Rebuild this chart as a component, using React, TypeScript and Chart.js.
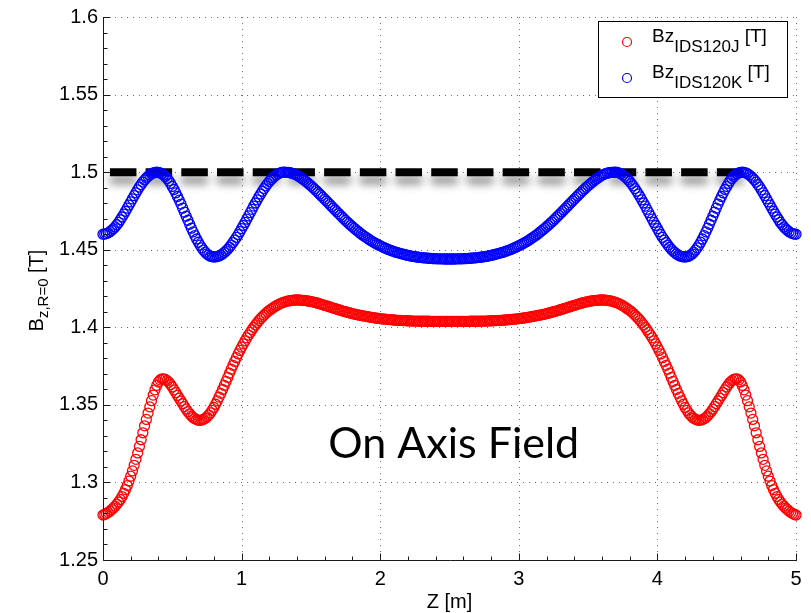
import { useEffect, useRef } from 'react';
import { Chart, registerables } from 'chart.js';

Chart.register(...registerables);

// Sample positions along the magnet axis [m]
const Z_START = 0;
const Z_STEP = 0.0125;

// On-axis field, IDS120J coil layout [T]
const bzIDS120J = [
  1.2790, 1.2794, 1.2800, 1.2807, 1.2815, 1.2825, 1.2835, 1.2847, 1.2860, 1.2874,
  1.2890, 1.2909, 1.2930, 1.2954, 1.2980, 1.3009, 1.3040, 1.3074, 1.3110, 1.3149,
  1.3190, 1.3232, 1.3275, 1.3320, 1.3365, 1.3406, 1.3447, 1.3487, 1.3527, 1.3563,
  1.3597, 1.3625, 1.3648, 1.3661, 1.3668, 1.3668, 1.3664, 1.3656, 1.3645, 1.3631,
  1.3615, 1.3597, 1.3579, 1.3561, 1.3543, 1.3525, 1.3507, 1.3489, 1.3472, 1.3456,
  1.3442, 1.3429, 1.3419, 1.3411, 1.3405, 1.3401, 1.3400, 1.3402, 1.3407, 1.3413,
  1.3422, 1.3434, 1.3448, 1.3465, 1.3483, 1.3504, 1.3526, 1.3550, 1.3574, 1.3599,
  1.3625, 1.3651, 1.3677, 1.3704, 1.3730, 1.3755, 1.3780, 1.3804, 1.3828, 1.3851,
  1.3872, 1.3893, 1.3913, 1.3932, 1.3950, 1.3967, 1.3984, 1.4000, 1.4015, 1.4029,
  1.4043, 1.4056, 1.4068, 1.4079, 1.4090, 1.4100, 1.4109, 1.4117, 1.4125, 1.4132,
  1.4139, 1.4145, 1.4151, 1.4156, 1.4160, 1.4164, 1.4167, 1.4170, 1.4172, 1.4174,
  1.4175, 1.4176, 1.4176, 1.4176, 1.4175, 1.4174, 1.4173, 1.4172, 1.4170, 1.4168,
  1.4166, 1.4164, 1.4161, 1.4158, 1.4155, 1.4152, 1.4148, 1.4145, 1.4141, 1.4138,
  1.4134, 1.4131, 1.4127, 1.4124, 1.4120, 1.4117, 1.4113, 1.4110, 1.4106, 1.4103,
  1.4100, 1.4097, 1.4094, 1.4091, 1.4088, 1.4085, 1.4083, 1.4080, 1.4078, 1.4076,
  1.4074, 1.4072, 1.4070, 1.4068, 1.4066, 1.4064, 1.4062, 1.4060, 1.4059, 1.4057,
  1.4056, 1.4054, 1.4053, 1.4052, 1.4051, 1.4050, 1.4049, 1.4048, 1.4047, 1.4046,
  1.4045, 1.4044, 1.4044, 1.4043, 1.4043, 1.4042, 1.4042, 1.4041, 1.4041, 1.4040,
  1.4040, 1.4040, 1.4040, 1.4039, 1.4039, 1.4039, 1.4039, 1.4039, 1.4039, 1.4038,
  1.4038, 1.4038, 1.4038, 1.4038, 1.4038, 1.4038, 1.4038, 1.4038, 1.4038, 1.4038,
  1.4038,
  1.4038, 1.4038, 1.4038, 1.4038, 1.4038, 1.4038, 1.4038, 1.4038, 1.4038, 1.4038,
  1.4038, 1.4039, 1.4039, 1.4039, 1.4039, 1.4039, 1.4039, 1.4040, 1.4040, 1.4040,
  1.4040, 1.4041, 1.4041, 1.4042, 1.4042, 1.4043, 1.4043, 1.4044, 1.4044, 1.4045,
  1.4046, 1.4047, 1.4048, 1.4049, 1.4050, 1.4051, 1.4052, 1.4053, 1.4054, 1.4056,
  1.4057, 1.4059, 1.4060, 1.4062, 1.4064, 1.4066, 1.4068, 1.4070, 1.4072, 1.4074,
  1.4076, 1.4078, 1.4080, 1.4083, 1.4085, 1.4088, 1.4091, 1.4094, 1.4097, 1.4100,
  1.4103, 1.4106, 1.4110, 1.4113, 1.4117, 1.4120, 1.4124, 1.4127, 1.4131, 1.4134,
  1.4138, 1.4141, 1.4145, 1.4148, 1.4152, 1.4155, 1.4158, 1.4161, 1.4164, 1.4166,
  1.4168, 1.4170, 1.4172, 1.4173, 1.4174, 1.4175, 1.4176, 1.4176, 1.4176, 1.4175,
  1.4174, 1.4172, 1.4170, 1.4167, 1.4164, 1.4160, 1.4156, 1.4151, 1.4145, 1.4139,
  1.4132, 1.4125, 1.4117, 1.4109, 1.4100, 1.4090, 1.4079, 1.4068, 1.4056, 1.4043,
  1.4029, 1.4015, 1.4000, 1.3984, 1.3967, 1.3950, 1.3932, 1.3913, 1.3893, 1.3872,
  1.3851, 1.3828, 1.3804, 1.3780, 1.3755, 1.3730, 1.3704, 1.3677, 1.3651, 1.3625,
  1.3599, 1.3574, 1.3550, 1.3526, 1.3504, 1.3483, 1.3465, 1.3448, 1.3434, 1.3422,
  1.3413, 1.3407, 1.3402, 1.3400, 1.3401, 1.3405, 1.3411, 1.3419, 1.3429, 1.3442,
  1.3456, 1.3472, 1.3489, 1.3507, 1.3525, 1.3543, 1.3561, 1.3579, 1.3597, 1.3615,
  1.3631, 1.3645, 1.3656, 1.3664, 1.3668, 1.3668, 1.3661, 1.3648, 1.3625, 1.3597,
  1.3563, 1.3527, 1.3487, 1.3447, 1.3406, 1.3365, 1.3320, 1.3275, 1.3232, 1.3190,
  1.3149, 1.3110, 1.3074, 1.3040, 1.3009, 1.2980, 1.2954, 1.2930, 1.2909, 1.2890,
  1.2874, 1.2860, 1.2847, 1.2835, 1.2825, 1.2815, 1.2807, 1.2800, 1.2794, 1.2790,
];

// On-axis field, IDS120K coil layout [T]
const bzIDS120K = [
  1.4600, 1.4601, 1.4604, 1.4609, 1.4616, 1.4625, 1.4635, 1.4647, 1.4661, 1.4676,
  1.4693, 1.4711, 1.4729, 1.4748, 1.4768, 1.4788, 1.4808, 1.4828, 1.4848, 1.4867,
  1.4886, 1.4904, 1.4920, 1.4936, 1.4950, 1.4962, 1.4973, 1.4982, 1.4990, 1.4995,
  1.4999, 1.5000, 1.4999, 1.4995, 1.4990, 1.4982, 1.4972, 1.4959, 1.4944, 1.4927,
  1.4908, 1.4888, 1.4866, 1.4843, 1.4819, 1.4794, 1.4768, 1.4742, 1.4716, 1.4690,
  1.4664, 1.4639, 1.4615, 1.4591, 1.4569, 1.4548, 1.4529, 1.4512, 1.4497, 1.4484,
  1.4473, 1.4465, 1.4458, 1.4455, 1.4453, 1.4454, 1.4456, 1.4460, 1.4466, 1.4473,
  1.4482, 1.4492, 1.4503, 1.4516, 1.4530, 1.4546, 1.4562, 1.4579, 1.4597, 1.4616,
  1.4636, 1.4656, 1.4676, 1.4697, 1.4718, 1.4739, 1.4760, 1.4781, 1.4801, 1.4821,
  1.4841, 1.4859, 1.4877, 1.4894, 1.4911, 1.4926, 1.4940, 1.4952, 1.4963, 1.4973,
  1.4982, 1.4989, 1.4994, 1.4998, 1.5000, 1.5000, 1.4999, 1.4998, 1.4996, 1.4993,
  1.4990, 1.4985, 1.4980, 1.4973, 1.4966, 1.4958, 1.4950, 1.4941, 1.4932, 1.4922,
  1.4912, 1.4902, 1.4892, 1.4881, 1.4870, 1.4859, 1.4848, 1.4837, 1.4825, 1.4814,
  1.4802, 1.4791, 1.4779, 1.4768, 1.4756, 1.4745, 1.4733, 1.4722, 1.4711, 1.4700,
  1.4689, 1.4678, 1.4668, 1.4658, 1.4648, 1.4638, 1.4629, 1.4620, 1.4611, 1.4602,
  1.4594, 1.4586, 1.4578, 1.4570, 1.4563, 1.4556, 1.4549, 1.4543, 1.4537, 1.4531,
  1.4526, 1.4520, 1.4515, 1.4510, 1.4505, 1.4500, 1.4496, 1.4492, 1.4488, 1.4484,
  1.4481, 1.4478, 1.4475, 1.4472, 1.4469, 1.4466, 1.4464, 1.4461, 1.4459, 1.4457,
  1.4455, 1.4453, 1.4452, 1.4450, 1.4449, 1.4448, 1.4447, 1.4446, 1.4445, 1.4444,
  1.4443, 1.4442, 1.4442, 1.4441, 1.4441, 1.4441, 1.4441, 1.4440, 1.4440, 1.4440,
  1.4440,
  1.4440, 1.4440, 1.4440, 1.4441, 1.4441, 1.4441, 1.4441, 1.4442, 1.4442, 1.4443,
  1.4444, 1.4445, 1.4446, 1.4447, 1.4448, 1.4449, 1.4450, 1.4452, 1.4453, 1.4455,
  1.4457, 1.4459, 1.4461, 1.4464, 1.4466, 1.4469, 1.4472, 1.4475, 1.4478, 1.4481,
  1.4484, 1.4488, 1.4492, 1.4496, 1.4500, 1.4505, 1.4510, 1.4515, 1.4520, 1.4526,
  1.4531, 1.4537, 1.4543, 1.4549, 1.4556, 1.4563, 1.4570, 1.4578, 1.4586, 1.4594,
  1.4602, 1.4611, 1.4620, 1.4629, 1.4638, 1.4648, 1.4658, 1.4668, 1.4678, 1.4689,
  1.4700, 1.4711, 1.4722, 1.4733, 1.4745, 1.4756, 1.4768, 1.4779, 1.4791, 1.4802,
  1.4814, 1.4825, 1.4837, 1.4848, 1.4859, 1.4870, 1.4881, 1.4892, 1.4902, 1.4912,
  1.4922, 1.4932, 1.4941, 1.4950, 1.4958, 1.4966, 1.4973, 1.4980, 1.4985, 1.4990,
  1.4993, 1.4996, 1.4998, 1.4999, 1.5000, 1.5000, 1.4998, 1.4994, 1.4989, 1.4982,
  1.4973, 1.4963, 1.4952, 1.4940, 1.4926, 1.4911, 1.4894, 1.4877, 1.4859, 1.4841,
  1.4821, 1.4801, 1.4781, 1.4760, 1.4739, 1.4718, 1.4697, 1.4676, 1.4656, 1.4636,
  1.4616, 1.4597, 1.4579, 1.4562, 1.4546, 1.4530, 1.4516, 1.4503, 1.4492, 1.4482,
  1.4473, 1.4466, 1.4460, 1.4456, 1.4454, 1.4453, 1.4455, 1.4458, 1.4465, 1.4473,
  1.4484, 1.4497, 1.4512, 1.4529, 1.4548, 1.4569, 1.4591, 1.4615, 1.4639, 1.4664,
  1.4690, 1.4716, 1.4742, 1.4768, 1.4794, 1.4819, 1.4843, 1.4866, 1.4888, 1.4908,
  1.4927, 1.4944, 1.4959, 1.4972, 1.4982, 1.4990, 1.4995, 1.4999, 1.5000, 1.4999,
  1.4995, 1.4990, 1.4982, 1.4973, 1.4962, 1.4950, 1.4936, 1.4920, 1.4904, 1.4886,
  1.4867, 1.4848, 1.4828, 1.4808, 1.4788, 1.4768, 1.4748, 1.4729, 1.4711, 1.4693,
  1.4676, 1.4661, 1.4647, 1.4635, 1.4625, 1.4616, 1.4609, 1.4604, 1.4601, 1.4600,
];

const seriesNames = ['IDS120J', 'IDS120K'];
const seriesColors = ['#ff0000', '#0000ff'];

// Target field level, shown as a dashed line
const targetField = 1.5;
const targetSpanZ = [0.05, 4.62];

const zTicks = [0, 1, 2, 3, 4, 5];
const bTicks = [1.25, 1.3, 1.35, 1.4, 1.45, 1.5, 1.55, 1.6];

const captionText = 'On Axis Field';
const captionAt = { z: 2.53, b: 1.3155 };

const SANS = '"Liberation Sans", Arial, Helvetica, sans-serif';

const zValues = bzIDS120J.map((_, i) => +(Z_START + i * Z_STEP).toFixed(4));

const toPoints = (vals: number[]) => vals.map((b, i) => ({ x: zValues[i], y: b }));

// Draws a text run made of a main part, a subscript and a trailing part,
// starting at (x, 0) in the current transform.
function drawSubscripted(
  ctx: CanvasRenderingContext2D,
  x: number,
  main: string,
  sub: string,
  tail: string,
  mainSize: number,
  subSize: number,
  subDrop: number,
  measureOnly = false,
) {
  ctx.font = `${mainSize}px ${SANS}`;
  const w1 = ctx.measureText(main).width;
  ctx.font = `${subSize}px ${SANS}`;
  const w2 = ctx.measureText(sub).width;
  ctx.font = `${mainSize}px ${SANS}`;
  const w3 = ctx.measureText(tail).width;
  if (!measureOnly) {
    ctx.font = `${mainSize}px ${SANS}`;
    ctx.fillText(main, x, 0);
    ctx.font = `${subSize}px ${SANS}`;
    ctx.fillText(sub, x + w1, subDrop);
    ctx.font = `${mainSize}px ${SANS}`;
    ctx.fillText(tail, x + w1 + w2, 0);
  }
  return w1 + w2 + w3;
}

// Dotted grid underneath the data, solid axes with inward ticks above it,
// then the legend, axis titles and caption.
const framePlugin = {
  id: 'frame',
  beforeDatasetsDraw(chart: any) {
    const { ctx, chartArea: a, scales } = chart;
    const x = scales.x;
    const y = scales.y;
    ctx.save();
    ctx.strokeStyle = 'rgba(0,0,0,0.55)';
    ctx.lineWidth = 1;
    ctx.setLineDash([1, 5]);
    for (const v of bTicks.slice(1)) {
      const py = Math.round(y.getPixelForValue(v)) + 0.5;
      ctx.beginPath();
      ctx.moveTo(a.left, py);
      ctx.lineTo(a.right, py);
      ctx.stroke();
    }
    for (const v of zTicks.slice(1)) {
      const px = Math.round(x.getPixelForValue(v)) + 0.5;
      ctx.beginPath();
      ctx.moveTo(px, a.top);
      ctx.lineTo(px, a.bottom);
      ctx.stroke();
    }
    ctx.restore();
  },
  afterDatasetsDraw(chart: any) {
    const { ctx, chartArea: a, scales } = chart;
    const x = scales.x;
    const y = scales.y;
    const left = Math.round(a.left) + 0.5;
    const bottom = Math.round(a.bottom) + 0.5;
    ctx.save();
    ctx.strokeStyle = '#1a1a1a';
    ctx.lineWidth = 1;
    ctx.beginPath();
    ctx.moveTo(left, Math.round(a.top));
    ctx.lineTo(left, bottom);
    ctx.lineTo(Math.round(a.right) + 1, bottom);
    ctx.stroke();

    // y ticks: 4 minor steps between labelled values
    const bMin = bTicks[0];
    const bStep = (bTicks[1] - bTicks[0]) / 5;
    const nb = Math.round((bTicks[bTicks.length - 1] - bMin) / bStep);
    ctx.beginPath();
    for (let i = 0; i <= nb; i++) {
      const py = Math.round(y.getPixelForValue(bMin + i * bStep)) + 0.5;
      const len = i % 5 === 0 ? 7 : 4;
      ctx.moveTo(left, py);
      ctx.lineTo(left + len, py);
    }
    // x ticks: 4 minor steps between labelled values
    const zStep = (zTicks[1] - zTicks[0]) / 5;
    const nz = Math.round((zTicks[zTicks.length - 1] - zTicks[0]) / zStep);
    for (let i = 0; i <= nz; i++) {
      const px = Math.round(x.getPixelForValue(zTicks[0] + i * zStep)) + 0.5;
      const len = i % 5 === 0 ? 7 : 4;
      ctx.moveTo(px, bottom);
      ctx.lineTo(px, bottom - len);
    }
    ctx.stroke();
    ctx.restore();
  },
  afterDraw(chart: any) {
    const { ctx, chartArea: a, scales } = chart;
    const x = scales.x;
    const y = scales.y;
    ctx.save();
    ctx.fillStyle = '#000';
    ctx.textBaseline = 'alphabetic';
    ctx.textAlign = 'left';

    // caption inside the plot
    ctx.font = `43px Lato, "Open Sans", sans-serif`;
    ctx.textAlign = 'center';
    ctx.fillText(captionText, x.getPixelForValue(captionAt.z), y.getPixelForValue(captionAt.b));
    ctx.textAlign = 'left';

    // x axis title
    ctx.font = `20px ${SANS}`;
    ctx.textAlign = 'center';
    ctx.fillText('Z [m]', (a.left + a.right) / 2, 608);
    ctx.textAlign = 'left';

    // y axis title, rotated
    ctx.save();
    ctx.translate(43, (a.top + a.bottom) / 2 + 2);
    ctx.rotate(-Math.PI / 2);
    const tw = drawSubscripted(ctx, 0, 'B', 'z,R=0', ' [T]', 20, 15, 5, true);
    drawSubscripted(ctx, -tw / 2, 'B', 'z,R=0', ' [T]', 20, 15, 5);
    ctx.restore();

    // legend
    const box = { x: 598.5, y: 21.5, w: 189, h: 76 };
    ctx.fillStyle = '#fff';
    ctx.fillRect(box.x, box.y, box.w, box.h);
    ctx.strokeStyle = '#000';
    ctx.lineWidth = 1;
    ctx.strokeRect(box.x, box.y, box.w, box.h);
    const rows = [42, 78];
    seriesNames.forEach((name, i) => {
      const cy = rows[i];
      ctx.beginPath();
      ctx.strokeStyle = seriesColors[i];
      ctx.lineWidth = 1.2;
      ctx.arc(627, cy, 4.5, 0, Math.PI * 2);
      ctx.stroke();
      ctx.fillStyle = '#000';
      ctx.save();
      ctx.translate(0, cy - 0.5);
      drawSubscripted(ctx, 652, 'Bz', name, ' [T]', 19, 17, 10);
      ctx.restore();
    });
    ctx.restore();
  },
};

// Soft drop shadow under the dashed target line
const shadowPlugin = {
  id: 'targetShadow',
  beforeDatasetDraw(chart: any, args: any) {
    if (args.index !== 2) return;
    const ctx = chart.ctx;
    ctx.save();
    ctx.shadowColor = 'rgba(0,0,0,0.45)';
    ctx.shadowBlur = 8;
    ctx.shadowOffsetX = 0;
    ctx.shadowOffsetY = 8;
  },
  afterDatasetDraw(chart: any, args: any) {
    if (args.index !== 2) return;
    chart.ctx.restore();
  },
};

export default function App() {
  const canvasRef = useRef<HTMLCanvasElement | null>(null);

  useEffect(() => {
    const canvas = canvasRef.current;
    if (!canvas) return;
    Chart.defaults.font.family = SANS;

    const markerStyle = {
      backgroundColor: 'rgba(0,0,0,0)',
      pointStyle: 'circle',
      pointRadius: 5,
      pointBorderWidth: 1.3,
      showLine: false,
      clip: false,
    };

    const chart = new Chart(canvas, {
      type: 'scatter',
      data: {
        datasets: [
          {
            ...markerStyle,
            label: `Bz ${seriesNames[0]} [T]`,
            data: toPoints(bzIDS120J),
            borderColor: seriesColors[0],
            order: 2,
          },
          {
            ...markerStyle,
            label: `Bz ${seriesNames[1]} [T]`,
            data: toPoints(bzIDS120K),
            borderColor: seriesColors[1],
            order: 1,
          },
          {
            type: 'line',
            label: 'target',
            data: targetSpanZ.map((z) => ({ x: z, y: targetField })),
            borderColor: '#000',
            borderWidth: 8,
            borderDash: [26.5, 9.2],
            borderCapStyle: 'butt',
            pointRadius: 0,
            fill: false,
            clip: false,
            order: 3,
          } as any,
        ],
      },
      options: {
        animation: false,
        responsive: false,
        events: [],
        layout: { padding: { left: 0, right: 15, top: 14, bottom: 0 } },
        plugins: {
          legend: { display: false },
          tooltip: { enabled: false },
        },
        scales: {
          x: {
            type: 'linear',
            min: zTicks[0],
            max: zTicks[zTicks.length - 1],
            afterBuildTicks: (s: any) => {
              s.ticks = zTicks.map((v) => ({ value: v }));
            },
            afterFit: (s: any) => {
              s.height = 53;
            },
            grid: { display: false, drawTicks: false },
            border: { display: false },
            ticks: {
              color: '#000',
              font: { size: 20, family: SANS },
              padding: 7,
              maxRotation: 0,
              callback: (v: any) => String(v),
            },
          },
          y: {
            type: 'linear',
            min: bTicks[0],
            max: bTicks[bTicks.length - 1],
            afterBuildTicks: (s: any) => {
              s.ticks = bTicks.map((v) => ({ value: v }));
            },
            afterFit: (s: any) => {
              s.width = 103;
            },
            grid: { display: false, drawTicks: false },
            border: { display: false },
            ticks: {
              color: '#000',
              font: { size: 20, family: SANS },
              padding: 5,
              callback: (v: any) => String(+(+v).toFixed(2)),
            },
          },
        },
      },
      plugins: [framePlugin, shadowPlugin],
    } as any);

    return () => chart.destroy();
  }, []);

  return (
    <div style={{ position: 'fixed', left: 0, top: 0, width: 811, height: 613, background: '#fff' }}>
      <canvas ref={canvasRef} width={811} height={613} style={{ display: 'block' }} />
    </div>
  );
}
